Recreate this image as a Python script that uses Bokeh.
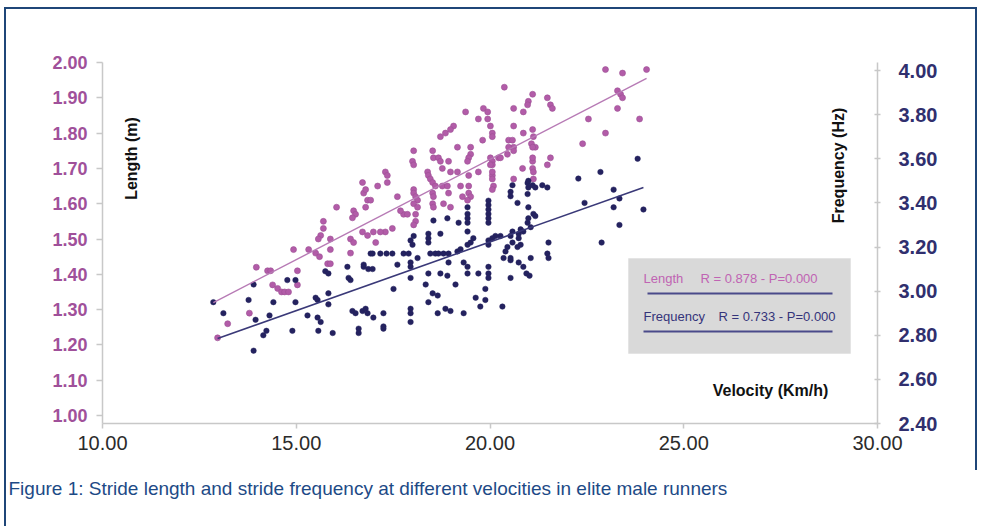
from bokeh.plotting import figure
from bokeh.models import (Range1d, LinearAxis, FixedTicker, NumeralTickFormatter,
                          Label, BoxAnnotation, Arrow, ColumnDataSource, Title)
from bokeh.embed import file_html
from bokeh.resources import INLINE

# ---------------- data ----------------
len_velocity = [
    12.97, 13.23, 13.79, 13.97, 14.26, 14.34, 14.39, 14.52, 14.62, 14.70,
    14.80, 15.03, 14.93, 15.32, 15.50, 15.60, 15.81, 15.88, 16.40, 15.03,
    16.71, 16.74, 17.10, 16.84, 16.92, 16.79, 16.48, 16.53, 16.45, 16.04,
    15.70, 15.70, 15.63, 15.57, 15.88, 15.88, 16.40, 16.48, 16.71, 16.84, 16.99, 17.05,
    20.37, 21.10, 20.99, 20.97, 21.48, 21.56, 21.61, 20.61, 20.86, 19.83,
    19.94, 19.37, 19.70, 19.94, 20.01, 20.06, 20.06, 20.61, 20.86, 21.10,
    19.81, 20.48, 20.58, 20.61, 20.61, 21.12, 21.07, 21.17, 21.10,
    19.06, 18.98, 18.85, 18.72, 19.16, 19.50, 19.50, 19.45, 19.42, 18.52,
    18.54, 18.67, 18.72, 18.03, 18.00, 18.03, 18.93, 18.98, 18.77, 19.16,
    18.39, 18.41, 17.30, 17.35, 17.35, 16.79,
    17.61, 18.03, 18.03, 18.08, 18.13, 18.03, 18.13, 18.46, 18.52, 18.59,
    18.52, 18.54, 18.77, 18.90, 18.93, 18.52, 18.54, 18.80, 18.98,
    19.45, 19.45, 19.45, 19.50, 19.42, 19.70, 20.01, 20.06, 20.06, 20.06,
    20.06, 20.09, 20.06, 20.22, 20.45, 20.48, 20.84, 21.10, 21.12, 21.12,
    21.10, 21.10, 21.56, 21.48, 20.61, 19.29, 19.24,
    17.77, 17.87, 17.48, 17.30, 17.17, 17.69, 18.08, 18.08, 18.03,
    22.98, 23.42, 24.04, 23.29, 23.37, 23.42, 23.29, 23.86, 22.54, 22.98,
    22.39, 20.27, 20.01, 20.06,
]
stride_length = [
    1.22, 1.26, 1.29, 1.42, 1.41, 1.41, 1.37, 1.36, 1.35, 1.35,
    1.35, 1.41, 1.47, 1.47, 1.46, 1.45, 1.43, 1.43, 1.46, 1.37,
    1.66, 1.63, 1.65, 1.61, 1.61, 1.59, 1.58, 1.57, 1.56, 1.59,
    1.55, 1.53, 1.51, 1.50, 1.50, 1.47, 1.50, 1.49, 1.52, 1.51, 1.52, 1.49,
    1.93, 1.91, 1.89, 1.88, 1.90, 1.88, 1.87, 1.87, 1.86, 1.87,
    1.86, 1.86, 1.84, 1.84, 1.82, 1.80, 1.79, 1.82, 1.80, 1.81,
    1.78, 1.78, 1.78, 1.76, 1.75, 1.79, 1.77, 1.76, 1.76,
    1.82, 1.81, 1.80, 1.79, 1.76, 1.76, 1.74, 1.73, 1.72, 1.75,
    1.73, 1.73, 1.72, 1.75, 1.72, 1.71, 1.72, 1.69, 1.70, 1.69,
    1.69, 1.68, 1.69, 1.68, 1.66, 1.64,
    1.62, 1.64, 1.63, 1.62, 1.61, 1.60, 1.59, 1.67, 1.66, 1.65,
    1.63, 1.62, 1.65, 1.65, 1.63, 1.60, 1.59, 1.60, 1.59,
    1.68, 1.65, 1.63, 1.62, 1.61, 1.69, 1.73, 1.72, 1.71, 1.68,
    1.67, 1.65, 1.64, 1.73, 1.74, 1.76, 1.70, 1.70, 1.69, 1.67,
    1.72, 1.73, 1.73, 1.71, 1.67, 1.62, 1.65,
    1.57, 1.57, 1.53, 1.52, 1.52, 1.58, 1.57, 1.55, 1.54,
    1.98, 1.97, 1.98, 1.92, 1.91, 1.90, 1.87, 1.84, 1.84, 1.80,
    1.77, 1.73, 1.71, 1.69,
]
freq_velocity = [
    12.86, 13.12, 13.77, 13.90, 14.41, 14.77, 14.98, 14.98, 14.15, 14.23,
    14.31, 13.95, 14.90, 15.29, 15.55, 15.63, 15.57, 15.50, 15.55, 15.75,
    15.83, 15.83, 15.83, 15.94, 16.32, 16.35, 16.40, 16.45, 16.53, 16.61,
    16.61, 16.71, 16.79, 16.84, 16.74, 16.86, 16.99, 16.92, 13.90,
    19.42, 19.42, 19.42, 19.42, 19.96, 19.96, 19.96, 19.96, 19.96, 19.96,
    20.58, 20.53, 20.53, 20.71, 20.97, 20.99, 20.97, 21.10, 21.17, 21.35, 21.48,
    20.99, 20.99, 20.97, 21.05, 21.12, 20.58, 20.53, 20.58, 20.74, 20.74, 20.86,
    20.27, 20.14, 20.06, 19.96, 19.96, 19.57, 19.50, 19.42, 19.19, 18.90, 18.72,
    18.41, 18.41, 18.41, 18.54, 18.03, 17.95, 18.00, 18.46, 18.59, 18.67,
    18.80, 18.93, 19.16, 19.24, 19.42,
    16.97, 17.17, 17.33, 17.48, 17.77, 17.90, 18.13, 20.45, 20.71, 21.51,
    21.48, 21.51, 22.28, 20.35, 21.05,
    16.74, 16.97, 17.61, 17.95, 17.95, 17.95, 18.41, 18.72, 18.90, 18.93,
    19.32, 19.42, 19.42, 19.70, 19.96, 19.96,
    20.53, 20.74, 20.86, 20.94, 21.02, 20.53,
    17.51, 18.34, 18.52, 18.65, 19.11, 19.88, 19.63, 19.88, 19.75, 20.32,
    18.41, 18.65, 18.85, 18.98, 19.32, 17.25, 17.25, 17.25, 17.95, 17.95, 17.95,
    23.81, 22.85, 23.19, 23.34, 22.44, 23.19, 23.96, 23.34, 22.88, 21.17,
    20.79, 20.79, 20.40, 20.53, 19.96, 20.99,
]
stride_frequency = [
    2.95, 2.90, 2.96, 2.73, 2.95, 3.05, 3.05, 2.95, 2.80, 2.82,
    2.89, 2.87, 2.82, 2.89, 2.88, 2.86, 2.82, 2.97, 2.96, 3.09,
    3.08, 2.99, 2.94, 2.81, 3.11, 3.06, 3.05, 2.91, 2.90, 2.83,
    2.81, 2.91, 2.92, 2.90, 3.11, 3.10, 2.88, 3.17, 3.03,
    3.38, 3.35, 3.33, 3.31, 3.41, 3.39, 3.37, 3.35, 3.33, 3.31,
    3.48, 3.45, 3.43, 3.40, 3.49, 3.47, 3.44, 3.48, 3.47, 3.48, 3.47,
    3.38, 3.33, 3.31, 3.29, 3.35, 3.27, 3.25, 3.22, 3.26, 3.24, 3.27,
    3.25, 3.25, 3.24, 3.23, 3.21, 3.24, 3.22, 3.27, 3.31, 3.33, 3.26,
    3.26, 3.24, 3.22, 3.32, 3.25, 3.23, 3.21, 3.17, 3.17, 3.17,
    3.17, 3.17, 3.18, 3.19, 3.21,
    3.17, 3.17, 3.17, 3.17, 3.17, 3.17, 3.15, 3.20, 3.20, 3.22,
    3.17, 3.15, 3.51, 3.15, 3.15,
    3.12, 3.10, 3.12, 3.13, 3.11, 3.06, 3.08, 3.08, 3.07, 3.13,
    3.13, 3.11, 3.08, 3.08, 3.08, 3.06,
    3.14, 3.13, 3.11, 3.08, 3.07, 3.06,
    3.01, 3.03, 2.99, 2.98, 3.03, 3.01, 2.97, 2.96, 2.93, 2.93,
    2.95, 2.90, 2.92, 2.91, 2.90, 2.90, 2.84, 2.83, 2.92, 2.90, 2.86,
    3.60, 3.54, 3.46, 3.42, 3.40, 3.38, 3.37, 3.30, 3.22, 3.34,
    3.28, 3.21, 3.18, 3.15, 3.11, 3.50,
]
# regression lines (end points)
length_fit_velocity = [12.86, 24.04]
length_fit = [1.32, 1.955]
freq_fit_velocity = [12.97, 23.96]
freq_fit = [2.785, 3.47]

velocity_ticks = [10, 15, 20, 25, 30]
length_ticks = [1.0, 1.1, 1.2, 1.3, 1.4, 1.5, 1.6, 1.7, 1.8, 1.9, 2.0]
freq_ticks = [2.4, 2.6, 2.8, 3.0, 3.2, 3.4, 3.6, 3.8, 4.0]

legend_length_name = "Length"
legend_length_stats = "R = 0.878 - P=0.000"
legend_freq_name = "Frequency"
legend_freq_stats = "R = 0.733 - P=0.000"
caption = "Figure 1: Stride length and stride frequency at different velocities in elite male runners"

# ---------------- styling ----------------
FONT = "Liberation Sans"
PINK = "#b25ca8"
PINK_TXT = "#a0509a"
NAVY = "#24225f"
NAVY_TXT = "#302f6e"
AXIS = "#c8c8c8"
BORDER = "#1f4678"

W, H = 978, 526
FL, FR, FT, FB = 102, 877, 62, 423   # plot frame edges in canvas pixels

# canvas pixel -> data coordinates
def X(px):
    return 10 + (px - FL) / 38.75

def Y(py):
    return 2.0 - (py - FT) / 353.0

p = figure(width=W, height=H,
           x_range=Range1d(10, 30), y_range=Range1d(Y(FB), 2.0),
           output_backend="svg", toolbar_location=None, tools="",
           x_axis_type=None, y_axis_type=None,
           min_border_left=FL, min_border_right=W - FR,
           min_border_top=FT, min_border_bottom=H - FB)
p.extra_y_ranges = {"freq": Range1d(2.40, 4.0 + 8 * 1.6 / 353.0)}
p.outline_line_color = None
p.background_fill_color = None
p.border_fill_color = None
# outer blue frame of the figure box (top, left, and upper right part)
grad = f"linear-gradient({BORDER},{BORDER})"
p.styles = {
    "background": (f"{grad} 4px 7px / 2px 600px no-repeat, "
                   f"{grad} 4px 7px / 973px 2px no-repeat, "
                   f"{grad} 975px 7px / 2px 463px no-repeat, #ffffff"),
}

def style_axis(ax, color, size, bold, t_in, t_out, standoff):
    ax.axis_line_color = AXIS
    ax.axis_line_width = 1.5
    ax.major_tick_line_color = AXIS
    ax.major_tick_line_width = 1.5
    ax.major_tick_in = t_in
    ax.major_tick_out = t_out
    ax.minor_tick_line_color = None
    ax.major_label_text_color = color
    ax.major_label_text_font = FONT
    ax.major_label_text_font_size = size
    ax.major_label_text_font_style = "bold" if bold else "normal"
    ax.major_label_standoff = standoff

left = LinearAxis(ticker=FixedTicker(ticks=length_ticks),
                  formatter=NumeralTickFormatter(format="0.00"))
style_axis(left, PINK_TXT, "18px", True, 0, 6, 9)
p.add_layout(left, "left")

right = LinearAxis(y_range_name="freq", ticker=FixedTicker(ticks=freq_ticks),
                   formatter=NumeralTickFormatter(format="0.00"))
style_axis(right, NAVY_TXT, "20px", True, 3, 3, 18)
p.add_layout(right, "right")

bottom = LinearAxis(ticker=FixedTicker(ticks=velocity_ticks),
                    formatter=NumeralTickFormatter(format="0.00"))
style_axis(bottom, "#2b2b2b", "20px", False, 0, 5, 7)
p.add_layout(bottom, "below")

cap = Title(text=caption, align="left", offset=-(FL - 8), standoff=46,
            text_font=FONT, text_font_size="19px",
            text_font_style="normal", text_color="#1d4a86")
p.add_layout(cap, "below")

# ---------------- marks ----------------
len_src = ColumnDataSource(dict(v=len_velocity, L=stride_length))
freq_src = ColumnDataSource(dict(v=freq_velocity, F=stride_frequency))

p.scatter("v", "L", source=len_src, marker="circle", size=6,
          fill_color=PINK, line_color="#9c4f93", line_width=0.6)
p.scatter("v", "F", source=freq_src, y_range_name="freq", marker="circle", size=5.5,
          fill_color=NAVY, line_color=NAVY, line_width=0.5)
p.line(length_fit_velocity, length_fit, line_color="#b77ab5", line_width=1.4)
p.line(freq_fit_velocity, freq_fit, y_range_name="freq", line_color="#3a3978", line_width=1.6)

# ---------------- axis titles (inside the plot area, as in the reference) ----------------
p.add_layout(Label(x=X(131), y=Y(158), text="Length (m)", angle=1.5708,
                   text_align="center", text_baseline="middle", text_font=FONT,
                   text_font_size="16px", text_font_style="bold", text_color="#111111"))
p.add_layout(Label(x=X(838), y=Y(165), text="Frequency (Hz)", angle=1.5708,
                   text_align="center", text_baseline="middle", text_font=FONT,
                   text_font_size="16px", text_font_style="bold", text_color="#111111"))
p.add_layout(Label(x=X(770), y=Y(390), text="Velocity (Km/h)",
                   text_align="center", text_baseline="middle", text_font=FONT,
                   text_font_size="16px", text_font_style="bold", text_color="#111111"))

# ---------------- stats box ----------------
p.add_layout(BoxAnnotation(left=X(628), right=X(850), top=Y(258), bottom=Y(353),
                           fill_color="#d9d9d9", fill_alpha=1.0, line_color="#cfcfcf",
                           line_width=1))
p.add_layout(Label(x=X(643), y=Y(278), text=legend_length_name, text_align="left",
                   text_baseline="middle", text_font=FONT, text_font_size="13px",
                   text_color="#c064b3"))
p.add_layout(Label(x=X(700), y=Y(278), text=legend_length_stats, text_align="left",
                   text_baseline="middle", text_font=FONT, text_font_size="13px",
                   text_color="#c064b3"))
p.add_layout(Label(x=X(643), y=Y(316), text=legend_freq_name, text_align="left",
                   text_baseline="middle", text_font=FONT, text_font_size="13px",
                   text_color="#35347a"))
p.add_layout(Label(x=X(718), y=Y(316), text=legend_freq_stats, text_align="left",
                   text_baseline="middle", text_font=FONT, text_font_size="13px",
                   text_color="#35347a"))
p.add_layout(Arrow(end=None, x_start=X(647), y_start=Y(293), x_end=X(832), y_end=Y(293),
                   line_color="#4a4a8a", line_width=2))
p.add_layout(Arrow(end=None, x_start=X(643), y_start=Y(331), x_end=X(832), y_end=Y(331),
                   line_color="#4a4a8a", line_width=2))

open("out.html", "w").write(file_html(p, INLINE))
